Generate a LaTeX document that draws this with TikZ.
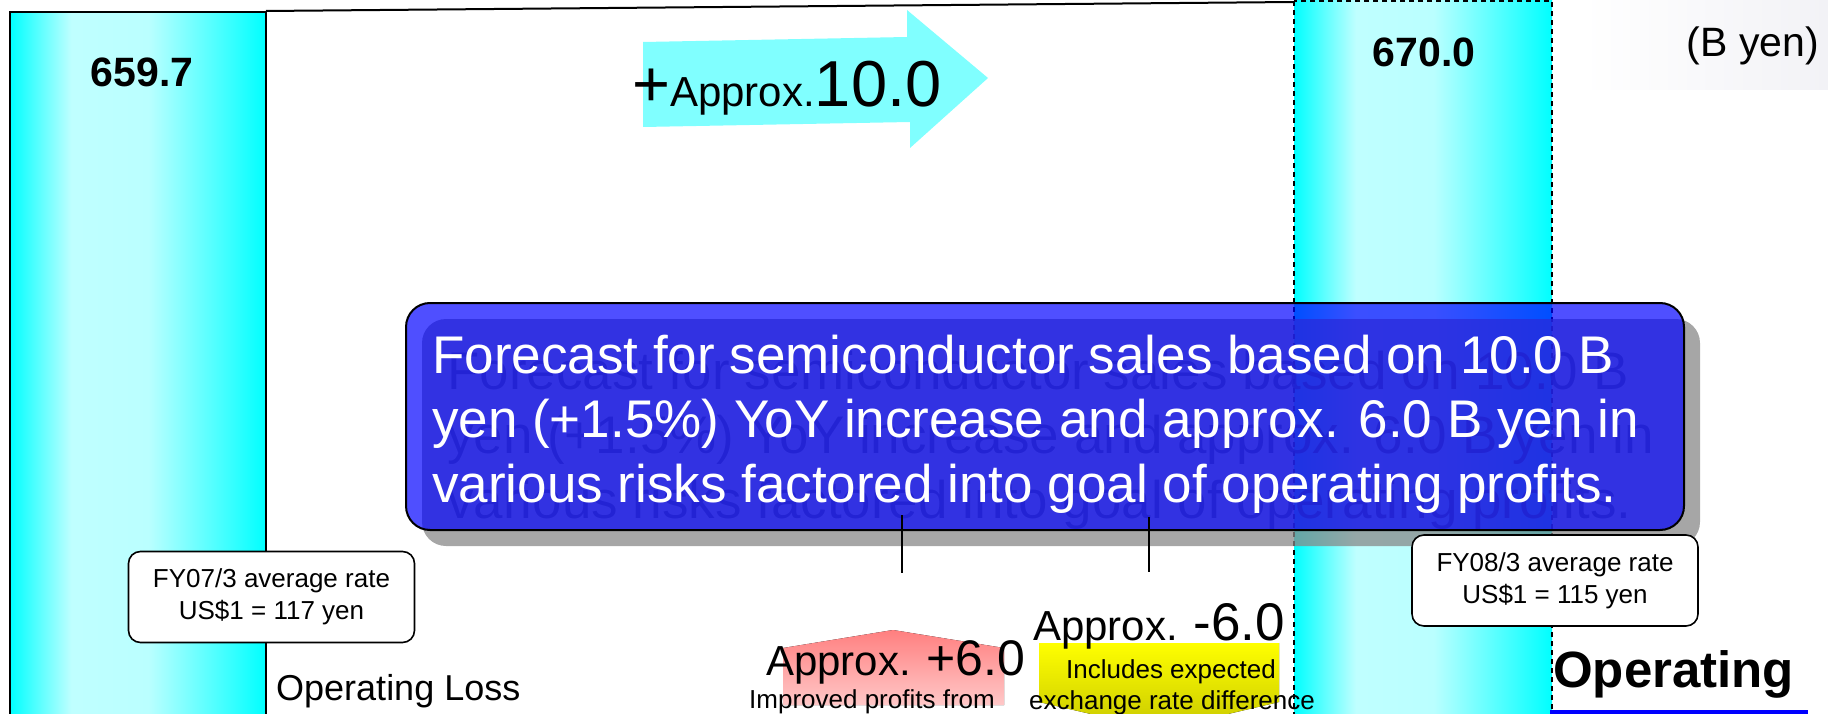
\documentclass[tikz,border=0pt]{standalone}
\usepackage{fontspec}
\setmainfont{Liberation Sans}
\usetikzlibrary{positioning}
\definecolor{bsArrow}{HTML}{80FFFF}
\definecolor{bsShadow}{HTML}{878787}
\definecolor{bsGhost}{HTML}{666666}
\definecolor{bsPinkTop}{HTML}{FF7F7F}
\definecolor{bsPinkBot}{HTML}{FFC8C8}
\definecolor{bsYelTop}{HTML}{FFFF00}
\definecolor{bsYelBot}{HTML}{C8C800}
\definecolor{bsHaze}{HTML}{F2F2F6}
\pgfdeclarehorizontalshading{barshade}{100bp}{color(0bp)=(cyan); color(25bp)=(cyan); color(37bp)=(cyan!25); color(52bp)=(cyan!27); color(75bp)=(cyan); color(100bp)=(cyan)}
\tikzset{
 chart/.style={x=1pt,y=-1pt,line join=miter},
 bar/.style={shade,shading=barshade,draw=black,line width=2pt},
 planbar/.style={bar,line width=1.1pt,dash pattern=on 5pt off 4pt},
 rim/.style={draw=black,line width=2pt},
 value/.style={font=\fontsize{41}{41}\selectfont\bfseries,anchor=base,inner sep=0pt},
 unit/.style={font=\fontsize{41}{41}\selectfont,anchor=base,inner sep=0pt},
 bignote/.style={font=\fontsize{53}{53}\selectfont,anchor=base west,inner sep=0pt},
 notebox/.style={rectangle,rounded corners=24pt,minimum width=1278pt,minimum height=227pt,inner sep=0pt,
   fill=blue,fill opacity=.69,draw=black,line width=2pt},
 noteshadow/.style={rectangle,rounded corners=24pt,minimum width=1278pt,minimum height=227pt,inner sep=0pt,
   fill=bsShadow,fill opacity=.74},
 ratebox/.style={rectangle,rounded corners=12pt,draw=black,line width=1.6pt,fill=white,
   minimum width=286pt,minimum height=91pt,align=center,inner sep=0pt,font=\fontsize{26}{32}\selectfont},
 small/.style={font=\fontsize{26}{26}\selectfont,anchor=base,inner sep=0pt},
 tick/.style={draw=black,line width=2pt},
 gainarrow/.style={top color=bsPinkTop,bottom color=bsPinkBot},
 riskarrow/.style={top color=bsYelTop,bottom color=bsYelBot}
}
\begin{document}
\begin{tikzpicture}[chart]
 \useasboundingbox (0,0) rectangle (1828,714);
 \clip (0,0) rectangle (1828,714);
 \fill[left color=white,right color=bsHaze] (1582,0) rectangle (1828,90);
 \path[bar] (10,12) rectangle (266,730);
 \draw[rim] (266,11) -- (1294,2);
 \path[planbar] (1294,1) rectangle (1552,730);
 \fill[bsArrow] (643,42) -- (907,37) -- (907,10) -- (988,78) -- (910,148) -- (910,122) -- (643,127) -- cycle;
 \node[anchor=base west,inner sep=0pt] (gain) at (632,107)
   {{\fontsize{65}{65}\selectfont+}{\fontsize{42}{42}\selectfont Approx.}{\fontsize{65}{65}\selectfont 10.0}};
 \node[value] (valA) at (142,87) {659.7};
 \node[value] (valB) at (1424,67) {670.0};
 \node[unit] (unit) at (1753,57) {(B yen)};
 \coordinate (notec) at (1045,416.5);
 \node[noteshadow] at ([shift={(16,16)}]notec) {};
 \foreach \y/\txt in {373/{Forecast for semiconductor sales based on 10.0 B},
   437/{yen (+1.5\%) YoY increase and approx. 6.0 B yen in},
   502/{various risks factored into goal of operating profits.}}
   \node[bignote,text=bsGhost,text opacity=.74] at (447,\y+16) {\txt};
 \node[notebox] (note) at (notec) {};
 \foreach \y/\txt in {373/{Forecast for semiconductor sales based on 10.0 B},
   437/{yen (+1.5\%) YoY increase and approx. 6.0 B yen in},
   502/{various risks factored into goal of operating profits.}}
   \node[bignote,text=white] at (432,\y) {\txt};
 \coordinate (tickAtop) at (902,515); \coordinate (tickAbot) at (902,573);
 \coordinate (tickBtop) at (1149,517); \coordinate (tickBbot) at (1149,572);
 \draw[tick] (tickAtop) -- (tickAbot);
 \draw[tick] (tickBtop) -- (tickBbot);
 \node[ratebox] (rate07) at (271.5,597) {FY07/3 average rate\\US\$1 = 117 yen};
 \node[ratebox] (rate08) at (1555,580.5) {FY08/3 average rate\\US\$1 = 115 yen};
 \fill[gainarrow] (783,705) -- (783,648) -- (893,630) -- (1004,648) -- (1004,705) -- cycle;
 \fill[riskarrow] (1039,643) -- (1279,643) -- (1279,702) -- (1160,730) -- (1039,702) -- cycle;
 \node[anchor=base west,inner sep=0pt] (plus) at (766,675)
   {{\fontsize{42}{42}\selectfont Approx. }{\fontsize{50}{50}\selectfont +6.0}};
 \node[small] (plusnote) at (872,708) {Improved profits from};
 \node[anchor=base west,inner sep=0pt] (minus) at (1033,640)
   {{\fontsize{42}{42}\selectfont Approx. }{\fontsize{53}{53}\selectfont -6.0}};
 \node[small] (minusnoteA) at (1171,678) {Includes expected};
 \node[small] (minusnoteB) at (1172,709) {exchange rate difference};
 \node[anchor=base west,inner sep=0pt,font=\fontsize{36}{36}\selectfont] (loss) at (276,700) {Operating Loss};
 \node[anchor=base west,inner sep=0pt,font=\fontsize{51}{51}\selectfont\bfseries] (profit) at (1553,687) {Operating};
 \draw[blue,line width=4pt] (1550,712) -- (1808,712);
\end{tikzpicture}
\end{document}
